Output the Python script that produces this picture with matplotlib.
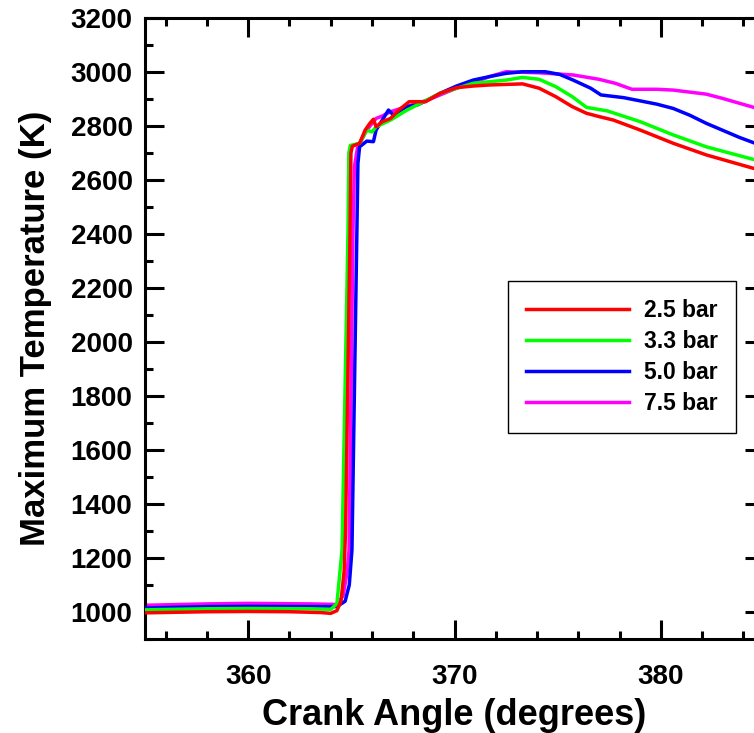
import matplotlib
matplotlib.use('Agg')
import matplotlib.pyplot as plt
from matplotlib.ticker import MultipleLocator

plt.rcParams['font.family'] = ['Liberation Sans', 'DejaVu Sans']
plt.rcParams['font.weight'] = 'bold'

# crank angle (deg) and max temperature (K)
ca_25 = [355, 358, 360, 362, 363.5, 364.0, 364.3, 364.5, 364.65, 364.72, 364.94, 364.98, 365.05,
         365.4, 365.67, 365.9, 366.07, 366.2, 366.5, 366.9, 367.3, 367.8, 368.6, 369.3, 370.1,
         370.9, 371.7, 372.5, 373.3, 374.1, 374.9, 375.7, 376.4, 377.0, 377.7, 379.0, 380.6,
         382.2, 384.5, 385]
t_25 = [997, 1001, 1002, 1001, 998, 995, 1005, 1040, 1150, 1300, 2415, 2700, 2725,
        2736, 2785, 2810, 2825, 2797, 2816, 2828, 2859, 2890, 2890, 2921, 2942,
        2948, 2952, 2954, 2956, 2940, 2909, 2872, 2847, 2835, 2822, 2785, 2736,
        2693, 2643, 2633]

ca_33 = [355, 358, 360, 363, 364.0, 364.3, 364.45, 364.55, 364.84, 364.88, 364.95, 365.4,
         365.75, 366.0, 366.2, 366.9, 367.7, 368.5, 369.3, 370.9, 372.5, 373.3, 374.1,
         374.9, 375.7, 376.4, 377.4, 379.0, 380.6, 382.2, 384.5, 385]
t_33 = [1008, 1012, 1013, 1012, 1010, 1030, 1150, 1230, 2415, 2700, 2728, 2736,
        2785, 2778, 2797, 2822, 2859, 2890, 2921, 2958, 2970, 2980, 2973,
        2946, 2909, 2869, 2856, 2816, 2767, 2723, 2676, 2666]

ca_50 = [355, 358, 360, 363, 364.3, 364.7, 364.9, 365.03, 365.27, 365.32, 365.4, 365.75,
         366.07, 366.2, 366.5, 366.8, 367.05, 367.7, 368.2, 368.7, 369.3, 370.1, 370.9,
         371.7, 372.5, 373.3, 374.4, 375.1, 375.75, 376.6, 377.1, 378.2, 379.8, 380.6,
         381.4, 382.2, 383.8, 384.5, 385]
t_50 = [1015, 1020, 1021, 1020, 1020, 1040, 1100, 1230, 2415, 2662, 2723, 2744,
        2742, 2785, 2822, 2859, 2840, 2872, 2878, 2896, 2921, 2948, 2970,
        2983, 2995, 3001, 3001, 2991, 2970, 2940, 2915, 2905, 2881, 2865,
        2840, 2810, 2758, 2738, 2725]

ca_75 = [355, 358, 360, 363, 364.3, 364.6, 364.8, 364.89, 365.08, 365.15, 365.3, 365.75,
         366.2, 366.5, 366.9, 367.7, 368.7, 369.3, 370.1, 370.9, 371.7, 372.5, 374.1,
         375.75, 377.0, 377.8, 378.6, 379.8, 380.6, 382.2, 383.0, 384.5, 385]
t_75 = [1025, 1030, 1032, 1030, 1028, 1060, 1150, 1230, 2415, 2650, 2720, 2785,
        2828, 2837, 2853, 2872, 2896, 2915, 2940, 2960, 2983, 3001, 2997,
        2989, 2973, 2958, 2936, 2936, 2933, 2918, 2902, 2869, 2860]

fig = plt.figure(figsize=(7.54, 7.33), dpi=100)
ax = fig.add_axes([145 / 754, 94 / 733, 619 / 754, 621 / 733])

ax.plot(ca_75, t_75, color='#ff00ff', lw=2.5, label='7.5 bar', zorder=2)
ax.plot(ca_50, t_50, color='#0000ff', lw=2.5, label='5.0 bar', zorder=3)
ax.plot(ca_33, t_33, color='#00ff00', lw=2.5, label='3.3 bar', zorder=4)
ax.plot(ca_25, t_25, color='#ff0000', lw=2.5, label='2.5 bar', zorder=5)

ax.set_xlim(355, 385)
ax.set_ylim(900, 3200)
ax.xaxis.set_major_locator(MultipleLocator(10))
ax.xaxis.set_minor_locator(MultipleLocator(2))
ax.yaxis.set_major_locator(MultipleLocator(200))
ax.yaxis.set_minor_locator(MultipleLocator(100))

ax.tick_params(which='both', direction='in', top=True, right=True, width=2.2)
ax.tick_params(which='major', length=13.5)
ax.tick_params(which='minor', length=6)
ax.tick_params(axis='x', which='major', labelsize=20, pad=18)
ax.tick_params(axis='y', which='major', labelsize=20, pad=9)
for lab in ax.get_xticklabels() + ax.get_yticklabels():
    lab.set_fontweight('bold')
for sp in ax.spines.values():
    sp.set_linewidth(2.2)

ax.set_xlabel('Crank Angle (degrees)', fontsize=26, fontweight='bold', labelpad=6)
ax.set_ylabel('Maximum Temperature (K)', fontsize=25, fontweight='bold', labelpad=13)

h, l = ax.get_legend_handles_labels()
order = [3, 2, 1, 0]
leg = ax.legend([h[i] for i in order], [l[i] for i in order],
                loc='upper left', bbox_to_anchor=(0.586, 0.5765),
                prop={'size': 16.5, 'weight': 'bold'}, fancybox=False,
                edgecolor='black', framealpha=1, handlelength=4.5,
                handletextpad=0.65, labelspacing=0.34, borderpad=0.8,
                borderaxespad=0)
leg.get_frame().set_linewidth(1.0)
for line in leg.get_lines():
    line.set_linewidth(2.5)

fig.savefig('out.png', dpi=100)
